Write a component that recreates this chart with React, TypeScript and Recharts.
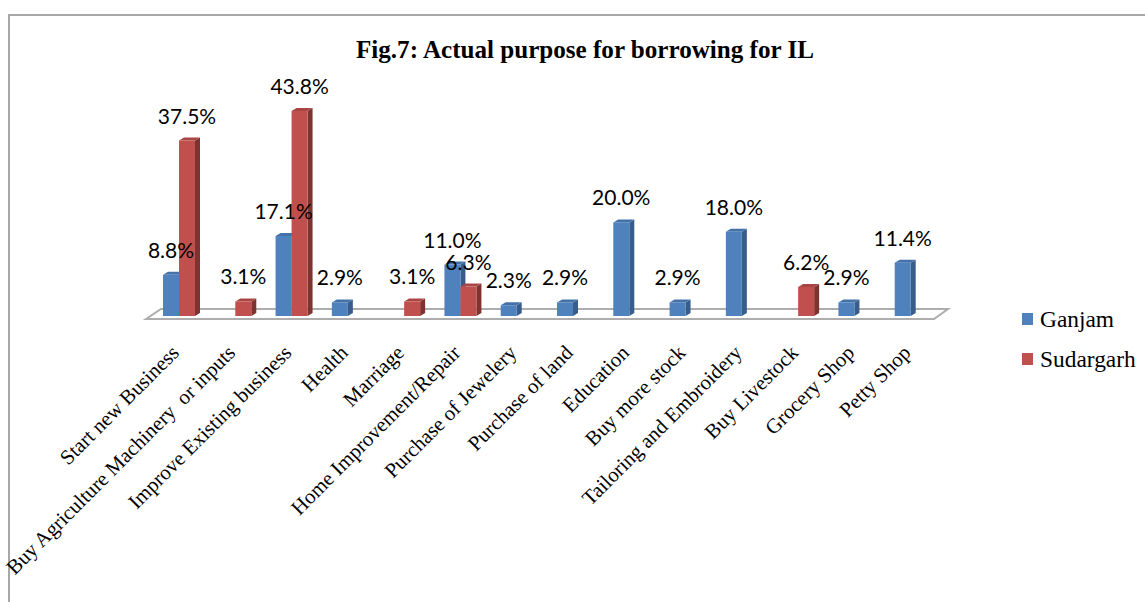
import React from "react";
import { BarChart, Bar, XAxis, YAxis, LabelList, ReferenceArea } from "recharts";

const categories = [
  "Start new Business",
  "Buy Agriculture Machinery  or inputs",
  "Improve Existing business",
  "Health",
  "Marriage",
  "Home Improvement/Repair",
  "Purchase of Jewelery",
  "Purchase of land",
  "Education",
  "Buy more stock",
  "Tailoring and Embroidery",
  "Buy Livestock",
  "Grocery Shop",
  "Petty Shop",
];
const ganjam = [8.8, null, 17.1, 2.9, null, 11.0, 2.3, 2.9, 20.0, 2.9, 18.0, null, 2.9, 11.4];
const sudargarh = [37.5, 3.1, 43.8, null, 3.1, 6.3, null, null, null, null, null, 6.2, null, null];

const rows = categories.map((name, i) => ({ name, ganjam: ganjam[i], sudargarh: sudargarh[i] }));

const BLUE = "#4F81BD";
const RED = "#C0504D";
const SERIF = "'Liberation Serif', serif";
const LABEL_FONT = "Lato, 'Open Sans', sans-serif";

const bar3d = (front: string, side: string, cap: string) => (p: any) => {
  const { x, y, width, height } = p;
  if (!height || height <= 0) return <g />;
  const dx = 5;
  const dy = 3;
  return (
    <g>
      <polygon points={`${x + width},${y} ${x + width + dx},${y - dy} ${x + width + dx},${y + height - dy} ${x + width},${y + height}`} fill={side} />
      <polygon points={`${x},${y} ${x + dx},${y - dy} ${x + width + dx},${y - dy} ${x + width},${y}`} fill={cap} />
      <rect x={x} y={y} width={width} height={height} fill={front} />
    </g>
  );
};

const valueLabel = (p: any) => {
  const { x, y, width, value } = p;
  if (value === null || value === undefined) return <g />;
  return (
    <text x={x + width / 2} y={y - 25.5} textAnchor="middle" dominantBaseline="central" fontFamily={LABEL_FONT} fontSize={21} fill="#000">
      {`${Number(value).toFixed(1)}%`}
    </text>
  );
};

const CategoryTick = (p: any) => {
  const { x, payload } = p;
  return (
    <text x={x + 1} y={354} transform={`rotate(-45 ${x + 1} 354)`} textAnchor="end" fontFamily={SERIF} fontSize={20.8} fill="#000" style={{ whiteSpace: "pre" }}>
      {payload.value}
    </text>
  );
};

const Floor = () => (
  <polygon points="146,319 161,309 948,309 934,319" fill="#fff" stroke="#ADADAD" strokeWidth={2} />
);

export default function App() {
  return (
    <div style={{ position: "absolute", left: 0, top: 0, width: 1145, height: 602, background: "#fff", overflow: "hidden" }}>
      <div style={{ position: "absolute", left: 8, top: 14, width: 1137, height: 588, borderTop: "2px solid #A8A8A8", borderLeft: "2px solid #A8A8A8", boxSizing: "border-box" }} />
      <div style={{ position: "absolute", left: 185, width: 800, top: 35, textAlign: "center", fontFamily: SERIF, fontWeight: 700, fontSize: 25.1, lineHeight: "30px", color: "#000" }}>
        Fig.7: Actual purpose for borrowing for IL
      </div>
      <div style={{ position: "absolute", left: 0, top: 0 }}>
        <BarChart width={1145} height={602} data={rows} margin={{ top: 82, right: 206, bottom: 256, left: 151 }} barSize={16} barGap={0} barCategoryGap={0}>
          <XAxis dataKey="name" interval={0} height={30} axisLine={false} tickLine={false} tick={CategoryTick} />
          <YAxis hide domain={[0, 50]} />
          <ReferenceArea x1={categories[0]} x2={categories[13]} y1={0} y2={1} shape={Floor} ifOverflow="visible" />
          <Bar dataKey="ganjam" fill={BLUE} isAnimationActive={false} shape={bar3d(BLUE, "#385D8A", "#4472A8")}>
            <LabelList dataKey="ganjam" content={valueLabel} />
          </Bar>
          <Bar dataKey="sudargarh" fill={RED} isAnimationActive={false} shape={bar3d(RED, "#7F3330", "#A94643")}>
            <LabelList dataKey="sudargarh" content={valueLabel} />
          </Bar>
        </BarChart>
      </div>
      {[{ name: "Ganjam", color: BLUE, y: 313 }, { name: "Sudargarh", color: RED, y: 353 }].map((e) => (
        <div key={e.name}>
          <div style={{ position: "absolute", left: 1022, top: e.y, width: 11, height: 12, background: e.color }} />
          <div style={{ position: "absolute", left: 1040, top: e.y - 7, fontFamily: SERIF, fontSize: 23.4, lineHeight: "26px", color: "#000" }}>{e.name}</div>
        </div>
      ))}
    </div>
  );
}
